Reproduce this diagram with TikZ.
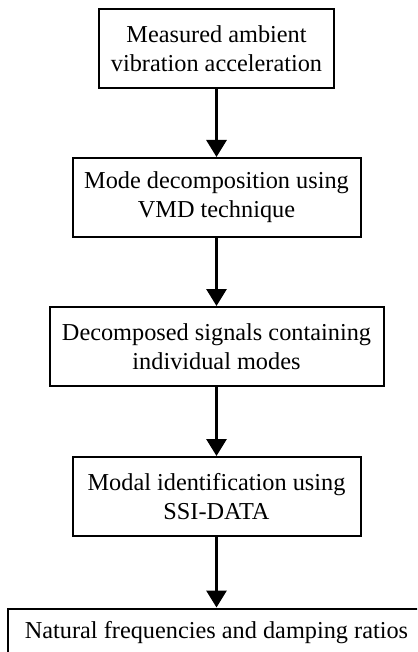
\documentclass[tikz,border=0pt]{standalone}
\usepackage{fontspec}
\setmainfont{Liberation Serif}
\usetikzlibrary{arrows.meta}

\begin{document}
\begin{tikzpicture}[x=1pt,y=-1pt,
	stage/.style={draw, line width=2pt, align=center, inner sep=0pt, minimum height=79pt, font=\fontsize{24.3}{29}\selectfont},
	flow/.style={line width=3pt, -{Triangle[width=20pt,length=17pt]}}]
	\useasboundingbox (0,0) rectangle (417,652);
	\clip (0,0) rectangle (417,652);
	
	\node[stage, minimum width=235pt] (meas) at (216.5,48.5) {Measured ambient\\vibration acceleration};
	\node[stage, minimum width=288pt] (vmd) at (216.5,197.5) {Mode decomposition using\\VMD technique};
	\node[stage, minimum width=334pt] (sig) at (216.5,346.5) {Decomposed signals containing\\individual modes};
	\node[stage, minimum width=288pt] (ssi) at (216.5,496.5) {Modal identification using\\SSI-DATA};
	\node[stage, minimum width=417pt, minimum height=0pt, anchor=north, inner ysep=13pt, text height=17pt, text depth=20pt] (freq) at (216.5,607.5) {Natural frequencies and damping ratios};
	
	\draw[flow] (meas) -- (vmd);
	\draw[flow] (vmd) -- (sig);
	\draw[flow] (sig) -- (ssi);
	\draw[flow] (ssi) -- (freq);
\end{tikzpicture}
\end{document}
